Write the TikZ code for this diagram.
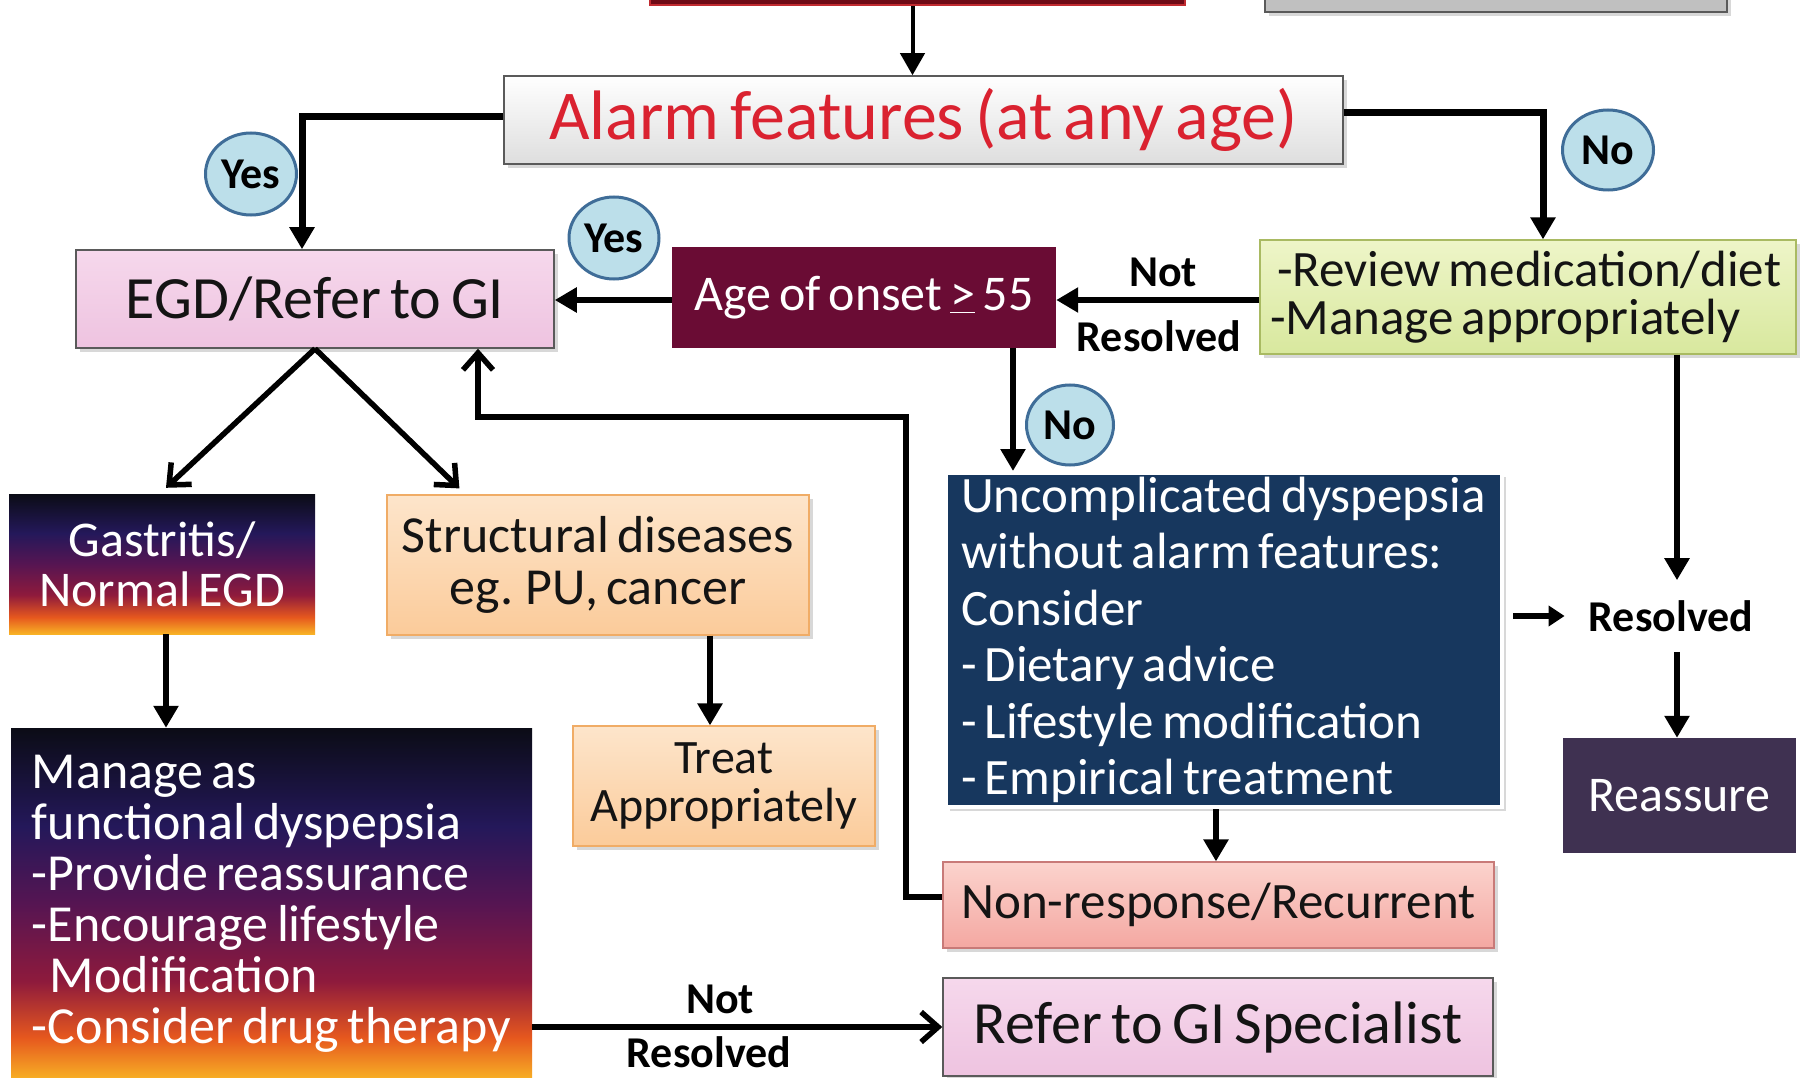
\documentclass[tikz,border=0pt]{standalone}
\usepackage{fontspec}
\setmainfont{Carlito}[WordSpace=0.7]
\usetikzlibrary{arrows.meta,shadows,shapes.geometric}
\definecolor{topred}{HTML}{6E0A16}
\definecolor{topredb}{HTML}{C02A30}
\definecolor{topgray}{HTML}{C0C0C0}
\definecolor{alarmred}{HTML}{DA2230}
\definecolor{pinkA}{HTML}{F6D8EC}
\definecolor{pinkB}{HTML}{EEC3E0}
\definecolor{maroon}{HTML}{6A0C34}
\definecolor{greenA}{HTML}{EEF5C8}
\definecolor{greenB}{HTML}{D8E89E}
\definecolor{greenD}{HTML}{A9BA62}
\definecolor{peachA}{HTML}{FDE5CB}
\definecolor{peachB}{HTML}{FBCB9A}
\definecolor{peachD}{HTML}{F0AC66}
\definecolor{navy}{HTML}{17375E}
\definecolor{salmonA}{HTML}{FBD3CD}
\definecolor{salmonB}{HTML}{F4A8A2}
\definecolor{salmonD}{HTML}{C87A78}
\definecolor{plum}{HTML}{3F3151}
\definecolor{ynfill}{HTML}{BCDFEA}
\definecolor{ynborder}{HTML}{3F6D98}
\definecolor{boxgray}{HTML}{5A5A5A}
\definecolor{txt}{HTML}{141414}
\definecolor{s1}{HTML}{F8B225}
\definecolor{s2}{HTML}{E6581E}
\definecolor{s3}{HTML}{8E1A3C}
\definecolor{s4}{HTML}{561552}
\definecolor{s5}{HTML}{24185A}
\definecolor{s6}{HTML}{0B0C16}
\pgfdeclareverticalshading{sunset}{100bp}{color(0bp)=(s1); color(25bp)=(s1); color(31bp)=(s2); color(39bp)=(s3); color(50bp)=(s4); color(61bp)=(s5); color(75bp)=(s6); color(100bp)=(s6)}
\newcommand\fsz[2]{\fontsize{#1}{#2}\selectfont}
\newcommand\natsp{\spaceskip=0pt\xspaceskip=0pt\hyphenpenalty=10000\relax}
\begin{document}
\begin{tikzpicture}[x=1pt,y=-1pt,
  base/.style={rectangle, inner sep=0pt, align=center, text=txt},
  shad/.style={drop shadow={opacity=0.3, shadow xshift=4pt, shadow yshift=-4pt}},
  pinkbox/.style={base, shad, top color=pinkA, bottom color=pinkB, draw=boxgray, line width=1.5pt},
  peachbox/.style={base, shad, top color=peachA, bottom color=peachB, draw=peachD, line width=1.2pt},
  sunbox/.style={base, shading=sunset, text=white},
  yn/.style={ellipse, draw=ynborder, line width=3pt, fill=ynfill, inner sep=0pt, text=black, font=\bfseries\fsz{44}{44}},
  lbl/.style={inner sep=0pt, text=black, font=\bfseries\fsz{44}{44}},
  conn/.style={line width=5.5pt, black},
  bold conn/.style={line width=7pt, black},
  tri/.style={-{Triangle[width=24pt,length=22pt]}},
  barb/.style={-{Straight Barb[width=30pt,length=17pt]}}
]
\useasboundingbox (0,0) rectangle (1808,1078);
\fill[white] (0,0) rectangle (1808,1078);

% cut-off boxes at the top
\node[base, fill=topred, draw=topredb, line width=2pt, minimum width=535, minimum height=80] (topbox) at (917.5,-35) {};
\node[base, shad, fill=topgray, draw=boxgray, line width=1.5pt, minimum width=462, minimum height=80] (graybox) at (1496,-28) {};

% main boxes
\node[base, shad, top color=white, bottom color=black!13, draw=boxgray, line width=1.5pt,
      minimum width=839, minimum height=88, text=alarmred, font=\fsz{70}{70}] (alarm) at (923.5,120) {Alarm features (at any age)};

\node[pinkbox, minimum width=478, minimum height=98, font=\fsz{60}{60}] (egd) at (315,299) {EGD/Refer to GI};

\node[base, fill=maroon, minimum width=384, minimum height=101, text=white, font=\fsz{50}{50}] (age) at (864,297.5) {Age of onset \underline{>} 55};

\node[base, shad, top color=greenA, bottom color=greenB, draw=greenD, line width=1.2pt,
      minimum width=536, minimum height=114, text width=516, inner xsep=10pt, align=left,
      font=\fsz{51}{48}] (green) at (1528,297) {\natsp\hspace*{7pt}-Review medication/diet\\-Manage appropriately};

\node[sunbox, minimum width=306, minimum height=140, font=\fsz{50}{50}] (gastritis) at (162,564) {Gastritis/\\Normal EGD};

\node[peachbox, minimum width=422, minimum height=140, font=\fsz{52}{52}] (struct) at (598,565) {Structural diseases\\eg. PU, cancer};

\node[sunbox, minimum width=521, minimum height=352, text width=489, inner xsep=16pt, align=left,
      font=\fsz{52}{51}] (manage) at (271.5,904) {\natsp\hspace*{5pt}Manage as\\\hspace*{5pt}functional dyspepsia\\\hspace*{5pt}-Provide reassurance\\\hspace*{5pt}-Encourage lifestyle\\\hspace*{23pt}Modification\\\hspace*{5pt}-Consider drug therapy};

\node[peachbox, minimum width=302, minimum height=120, font=\fsz{48}{48}] (treat) at (724,786) {Treat\\Appropriately};

\node[base, shad, fill=navy, draw=white, line width=4pt, minimum width=556, minimum height=334,
      text width=532, inner xsep=12pt, align=left, text=white, font=\fsz{51}{56.5}] (uncomp) at (1224,640)
      {\natsp\hspace*{3pt}Uncomplicated dyspepsia\\\hspace*{3pt}without alarm features:\\\hspace*{3pt}Consider\\\hspace*{3pt}- Dietary advice\\\hspace*{3pt}- Lifestyle modification\\\hspace*{3pt}- Empirical treatment};

\node[base, shad, top color=salmonA, bottom color=salmonB, draw=salmonD, line width=1.2pt,
      minimum width=551, minimum height=86, font=\fsz{51}{51}] (nonresp) at (1218.5,905) {Non-response/Recurrent};

\node[pinkbox, minimum width=550, minimum height=98, font=\fsz{60}{60}] (refer) at (1218,1027) {Refer to GI Specialist};

\node[base, fill=plum, minimum width=233, minimum height=115, text=white, font=\fsz{50}{50}] (reassure) at (1679.5,795.5) {Reassure};

\node[lbl, inner xsep=24pt, inner ysep=20pt] (res) at (1671,616) {Resolved};

% yes / no
\node[yn, minimum width=91, minimum height=82] (yes1) at (251,174) {Yes};
\node[yn, minimum width=90, minimum height=82] (yes2) at (614,238) {Yes};
\node[yn, minimum width=91, minimum height=80] (no1) at (1608,150) {No};
\node[yn, minimum width=87, minimum height=80] (no2) at (1070,425) {No};

% labels
\node[lbl] (notA) at (1163,272) {Not};
\node[lbl] (resA) at (1159,336) {Resolved};
\node[lbl] (notB) at (720,999) {Not};
\node[lbl] (resB) at (709,1052) {Resolved};

% connectors
\draw[line width=4pt, tri] ([xshift=-5]topbox.south) -- ([xshift=-5]topbox.south |- alarm.north);
\draw[bold conn, tri] ([yshift=3]alarm.west) -| ([xshift=-13]egd.north);
\draw[bold conn, tri] ([yshift=7]alarm.east) -| ([xshift=15]green.north);
\draw[conn, tri] (age.west |- 0,300) -- (egd.east |- 0,300);
\draw[conn, tri] (green.west |- 0,300) -- (age.east |- 0,300);
\draw[conn, tri] ([xshift=149]age.south) -- ([xshift=149]age.south |- uncomp.north);
\draw[conn, barb] (egd.south) -- ([xshift=4,yshift=6]gastritis.north);
\draw[conn, barb] (egd.south) -- ([xshift=73,yshift=6]struct.north west);
\draw[conn, tri] ([xshift=4]gastritis.south) -- ([xshift=4]gastritis.south |- manage.north);
\draw[conn, tri] ([xshift=112]struct.south) -- ([xshift=112]struct.south |- treat.north);
\draw[conn, tri] ([xshift=-8]uncomp.south) -- ([xshift=-8]uncomp.south |- nonresp.north);
\draw[conn, barb] ([yshift=8]nonresp.west) -| (906,417) -| ([xshift=163]egd.south);
\draw[conn, tri] ([xshift=149]green.south) -- ([xshift=149]green.south |- res.north);
\draw[conn, -{Triangle[width=20pt,length=16pt]}, shorten <=9pt] ([yshift=24]uncomp.east) -- ([yshift=24]uncomp.east -| res.west);
\draw[conn, tri] ([xshift=6]res.south) -- ([xshift=6]res.south |- reassure.north);
\draw[conn, barb] (refer.west -| manage.east) -- (refer.west);
\end{tikzpicture}
\end{document}
